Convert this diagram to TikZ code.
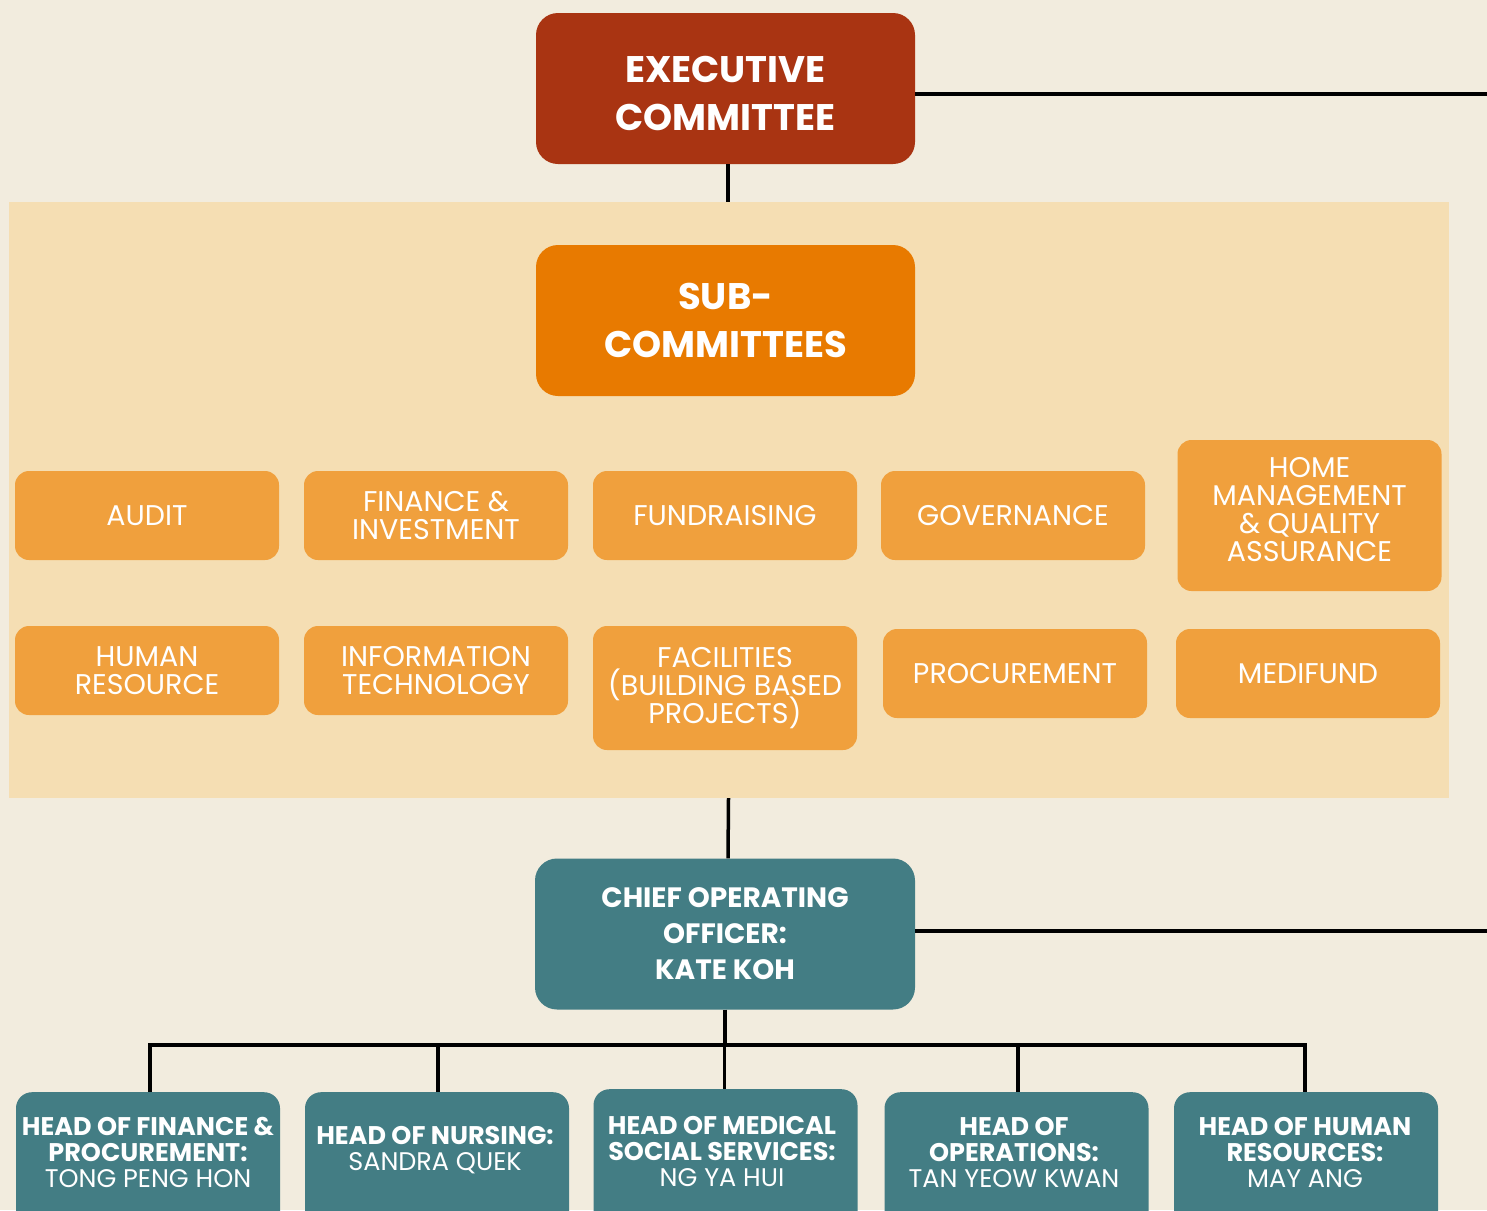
\documentclass[tikz,border=0pt]{standalone}
\usepackage{fontspec}
\setmainfont{Poppins}
\definecolor{bgc}{HTML}{F2ECDE}
\definecolor{panelc}{HTML}{F5DEB3}
\definecolor{execc}{HTML}{A93412}
\definecolor{subc}{HTML}{E87A00}
\definecolor{smallc}{HTML}{F0A03D}
\definecolor{tealc}{HTML}{437D84}
\newcommand{\tightlines}{\lineskiplimit -50pt\relax}
\tikzset{
  bigbox/.style={rectangle, rounded corners=22pt, minimum width=379pt, minimum height=151pt, text=white, align=center, inner sep=0pt},
  bigtext/.style={text=white, align=center, inner sep=0pt, font=\fontsize{37}{48}\selectfont\bfseries},
  smallbox/.style={rectangle, rounded corners=14pt, fill=smallc, minimum width=264pt, minimum height=89pt, text=white, align=center, inner sep=0pt, font=\fontsize{28.5}{27.5}\selectfont\tightlines},
  smalltext/.style={text=white, align=center, inner sep=0pt, font=\fontsize{28.5}{28}\selectfont\tightlines},
  headbox/.style={rectangle, rounded corners=16pt, fill=tealc, minimum width=264pt, minimum height=170pt, anchor=north, inner sep=0pt},
  headtext/.style={text=white, align=center, inner sep=0pt, font=\fontsize{25.5}{26}\selectfont\tightlines},
  conn/.style={line width=3.5pt, black},
}
\begin{document}
\begin{tikzpicture}[x=1pt,y=-1pt]
\useasboundingbox (0,0) rectangle (1487,1210);
\fill[bgc] (0,0) rectangle (1487,1210);
\clip (0,0) rectangle (1487,1210);
% panel
\node[rectangle, fill=panelc, minimum width=1440pt, minimum height=596pt, inner sep=0pt] (panel) at (729,500) {};
% executive
\node[bigbox, fill=execc] (exec) at (725.5,88.5) {};
\node[bigtext] (exect) at (725.5,93) {EXECUTIVE\\COMMITTEE};
\node[bigbox, fill=subc, font=\fontsize{37}{48}\selectfont\bfseries] (sub) at (725.5,320.5) {SUB-\\COMMITTEES};
% small boxes
\node[smallbox] (audit) at (147,515.5) {AUDIT};
\node[smallbox] (fin) at (436,515.5) {FINANCE \&\\INVESTMENT};
\node[smallbox] (fund) at (725,515.5) {FUNDRAISING};
\node[smallbox] (gov) at (1013,515.5) {GOVERNANCE};
\node[smallbox, minimum height=151pt] (home) at (1309.5,515.5) {};
\node[smalltext] (homet) at (1309.5,509.5) {HOME\\MANAGEMENT\\\& QUALITY\\ASSURANCE};
\node[smallbox] (hr) at (147,670.5) {HUMAN\\RESOURCE};
\node[smallbox] (it) at (436,670.5) {INFORMATION\\TECHNOLOGY};
\node[smallbox, minimum height=124pt, font=\fontsize{28.5}{28}\selectfont\tightlines] (fac) at (725,688) {FACILITIES\\(BUILDING BASED\\PROJECTS)};
\node[smallbox] (proc) at (1015,673.5) {PROCUREMENT};
\node[smallbox] (medi) at (1308,673.5) {MEDIFUND};
% COO
\node[bigbox, fill=tealc, minimum width=380pt, font=\fontsize{28}{36}\selectfont\bfseries] (coo) at (725,934) {CHIEF OPERATING\\OFFICER:\\KATE KOH};
% bottom boxes
\node[headbox] (b1) at (148,1092) {};
\node[headbox] (b2) at (437,1092) {};
\node[headbox] (b3) at (725.5,1089) {};
\node[headbox] (b4) at (1016.5,1092) {};
\node[headbox] (b5) at (1306,1092) {};
\node[headtext] (t1) at (148,1152) {\textbf{HEAD OF FINANCE \&}\\\textbf{PROCUREMENT:}\\TONG PENG HON};
\node[headtext] (t2) at (435,1150) {\textbf{HEAD OF NURSING:}\\SANDRA QUEK};
\node[headtext] (t3) at (722,1151) {\textbf{HEAD OF MEDICAL}\\\textbf{SOCIAL SERVICES:}\\NG YA HUI};
\node[headtext] (t4) at (1014,1152) {\textbf{HEAD OF}\\\textbf{OPERATIONS:}\\TAN YEOW KWAN};
\node[headtext] (t5) at (1305,1152) {\textbf{HEAD OF HUMAN}\\\textbf{RESOURCES:}\\MAY ANG};
% connectors
\coordinate (eR) at (1487,94);
\coordinate (cR) at (1487,931);
\coordinate (bus) at (725,1045);
\draw[conn] ([yshift=-5.5pt]exec.east) -- (eR);
\draw[conn] ([xshift=2.5pt]exec.south) -- ([xshift=2.5pt]exec.south |- panel.north);
\draw[conn] ([xshift=3pt]exec.south |- panel.south) -- ([xshift=3pt]coo.north);
\draw[conn] (coo.east |- cR) -- (cR);
\draw[conn] (coo.south) -- (bus);
\draw[conn, line join=miter] ([xshift=2pt]b1.north) |- (bus) -| ([xshift=-1pt]b5.north);
\draw[conn] ([xshift=1pt]b2.north) -- ([xshift=1pt]b2.north |- bus);
\draw[conn] ([xshift=-1pt]b3.north) -- ([xshift=-1pt]b3.north |- bus);
\draw[conn] ([xshift=1.5pt]b4.north) -- ([xshift=1.5pt]b4.north |- bus);
\end{tikzpicture}
\end{document}
